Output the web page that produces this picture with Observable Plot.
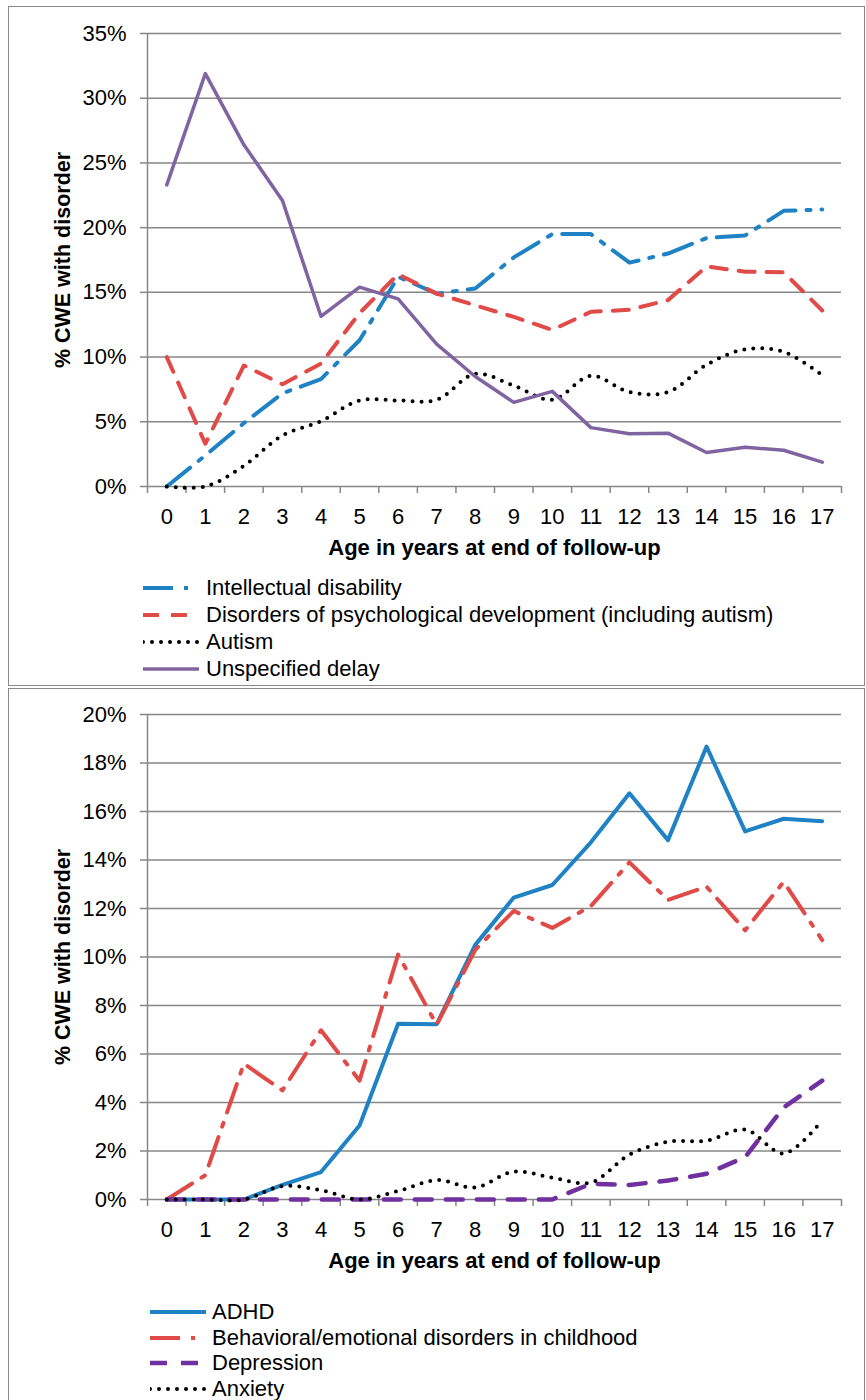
<!DOCTYPE html>
<html>
<head>
<meta charset="utf-8">
<script src="https://cdn.jsdelivr.net/npm/d3@7"></script>
<script src="https://cdn.jsdelivr.net/npm/@observablehq/plot@0.6"></script>
<style>
  html, body { margin: 0; padding: 0; background: #fff; }
  body { width: 866px; height: 1400px; position: relative; overflow: hidden;
         font-family: "Liberation Sans", Arial, sans-serif; }
  .frame { position: absolute; box-sizing: border-box; border: 1.5px solid #8a8a8a; background: transparent; }
  .chart { position: absolute; left: 0; }
  .legend { position: absolute; font-size: 22px; color: #000; }
  .legend .row { display: flex; align-items: center; white-space: nowrap; }
  .legend svg { display: block; flex: none; }
</style>
</head>
<body>
<div class="frame" style="left:8px; top:6px; width:857px; height:680px;"></div>
<div class="frame" style="left:8px; top:688px; width:857px; height:730px;"></div>
<div id="top" class="chart" style="top:0px;"></div>
<div id="bottom" class="chart" style="top:688px;"></div>
<div id="legend1" class="legend" style="left:143px; top:574px;"></div>
<div id="legend2" class="legend" style="left:150px; top:1299px;"></div>
<script>
// ---- data ----
const ages = [0, 1, 2, 3, 4, 5, 6, 7, 8, 9, 10, 11, 12, 13, 14, 15, 16, 17];

// top panel (% of CWE)
const intellectualDisability = [0, 2.4, 4.9, 7.2, 8.3, 11.3, 16.2, 14.9, 15.3, 17.7, 19.5, 19.5, 17.3, 18.0, 19.2, 19.4, 21.3, 21.4];
const psychDevelopment = [10.0, 3.3, 9.35, 7.9, 9.5, 13.4, 16.4, 14.9, 14.0, 13.1, 12.1, 13.5, 13.65, 14.4, 17.0, 16.6, 16.55, 13.6];
const autism = [0, 0, 1.6, 3.95, 5.05, 6.65, 6.65, 6.7, 8.7, 7.8, 6.7, 8.55, 7.3, 7.3, 9.4, 10.6, 10.4, 8.6];
const unspecifiedDelay = [23.3, 31.9, 26.4, 22.1, 13.15, 15.4, 14.5, 11.0, 8.5, 6.5, 7.35, 4.55, 4.07, 4.12, 2.63, 3.04, 2.8, 1.88];

// bottom panel (% of CWE)
const adhd = [0, 0, 0, 0.6, 1.13, 3.05, 7.25, 7.23, 10.5, 12.45, 12.97, 14.73, 16.75, 14.82, 18.68, 15.18, 15.7, 15.6];
const behavioral = [0, 1.0, 5.6, 4.5, 6.98, 4.9, 10.1, 7.2, 10.3, 11.9, 11.2, 12.1, 13.9, 12.35, 12.9, 11.1, 13.1, 10.7];
const depression = [0, 0, 0, 0, 0, 0, 0, 0, 0, 0, 0, 0.65, 0.6, 0.78, 1.06, 1.75, 3.8, 4.9];
const anxiety = [0, 0, 0, 0.55, 0.38, 0, 0.35, 0.8, 0.5, 1.15, 0.9, 0.7, 1.85, 2.38, 2.43, 2.88, 1.9, 3.27];

const topTicks = [0, 5, 10, 15, 20, 25, 30, 35];
const bottomTicks = [0, 2, 4, 6, 8, 10, 12, 14, 16, 18, 20];

const xTitle = "Age in years at end of follow-up";
const yTitle = "% CWE with disorder";

// ---- styles ----
const BLUE = "#1f82c4", RED = "#e04a47", PURPLE = "#8064a2", DPURPLE = "#7030a0", BLACK = "#000";
const GRID = "#878787";
const styles = {
  longDashDot: {strokeWidth: 4, strokeDasharray: "30,11,4,11"},
  dash: {strokeWidth: 4, strokeDasharray: "16,12"},
  dot: {strokeWidth: 4, strokeDasharray: "0,9", strokeLinecap: "round", curve: "catmull-rom"},
  solid: {strokeWidth: 3.5},
  midDash: {strokeWidth: 4.5, strokeDasharray: "17,14"}
};

const topSeries = [
  {name: "Intellectual disability", values: intellectualDisability, color: BLUE, style: styles.longDashDot},
  {name: "Disorders of psychological development (including autism)", values: psychDevelopment, color: RED, style: styles.dash},
  {name: "Autism", values: autism, color: BLACK, style: styles.dot},
  {name: "Unspecified delay", values: unspecifiedDelay, color: PURPLE, style: styles.solid}
];
const bottomSeries = [
  {name: "ADHD", values: adhd, color: BLUE, style: {strokeWidth: 4}},
  {name: "Behavioral/emotional disorders in childhood", values: behavioral, color: RED, style: styles.longDashDot},
  {name: "Depression", values: depression, color: DPURPLE, style: styles.midDash},
  {name: "Anxiety", values: anxiety, color: BLACK, style: styles.dot}
];

const boundaries = d3.range(-0.5, 18, 1);

function chart(series, ticks, marginTop, plotBottom) {
  const lines = series.map(s => {
    const rows = ages.map((a, i) => ({age: a, value: s.values[i]}));
    const {curve, ...st} = s.style;
    return Plot.line(rows, {x: "age", y: "value", stroke: s.color, curve: curve || "linear", ...st});
  });
  const marginBottom = 89;
  return Plot.plot({
    width: 866,
    height: plotBottom + marginBottom,
    marginLeft: 147,
    marginRight: 25,
    marginTop,
    marginBottom,
    style: {fontFamily: '"Liberation Sans", Arial, sans-serif', fontSize: "22px", color: "#000", background: "transparent", overflow: "visible"},
    x: {domain: [-0.5, 17.5], axis: null},
    y: {domain: [0, ticks[ticks.length - 1]], axis: null},
    marks: [
      Plot.gridY(ticks, {stroke: GRID, strokeOpacity: 1, strokeWidth: 1.5}),
      Plot.ruleX([-0.5], {stroke: GRID, strokeWidth: 1.5}),
      Plot.axisY(ticks, {label: null, tickSize: 7, tickPadding: 14, tickFormat: d => d + "%", stroke: GRID, strokeWidth: 1.5, fill: "#000"}),
      Plot.axisX(boundaries, {label: null, tickSize: 7, tickFormat: () => "", stroke: GRID, strokeWidth: 1.5}),
      Plot.axisX(ages, {label: null, tickSize: 0, tickPadding: 22, tickFormat: d => String(d), fill: "#000"}),
      ...lines,
      Plot.text([xTitle], {frameAnchor: "bottom", dy: 68, fontWeight: "bold", fontSize: 22, fill: "#000"}),
      Plot.text([yTitle], {frameAnchor: "left", textAnchor: "middle", dx: -84, rotate: -90, fontWeight: "bold", fontSize: 21.5, fill: "#000"})
    ]
  });
}

document.getElementById("top").append(chart(topSeries, topTicks, 33, 486));
document.getElementById("bottom").append(chart(bottomSeries, bottomTicks, 26, 511));

function legend(el, series, rowH, swW, gap) {
  for (const s of series) {
    const row = document.createElement("div");
    row.className = "row";
    row.style.height = rowH + "px";
    const ns = "http://www.w3.org/2000/svg";
    const svg = document.createElementNS(ns, "svg");
    svg.setAttribute("width", swW); svg.setAttribute("height", 10);
    svg.style.marginRight = gap + "px";
    const ln = document.createElementNS(ns, "line");
    ln.setAttribute("x1", 0); ln.setAttribute("x2", swW); ln.setAttribute("y1", 5); ln.setAttribute("y2", 5);
    ln.setAttribute("stroke", s.color);
    ln.setAttribute("stroke-width", s.style.strokeWidth || 3.5);
    if (s.style.strokeDasharray) ln.setAttribute("stroke-dasharray", s.style.strokeDasharray);
    if (s.style.strokeLinecap) ln.setAttribute("stroke-linecap", s.style.strokeLinecap);
    svg.append(ln);
    const t = document.createElement("span");
    t.textContent = s.name;
    row.append(svg, t);
    el.append(row);
  }
}
legend(document.getElementById("legend1"), topSeries, 27, 56, 7);
legend(document.getElementById("legend2"), bottomSeries, 25.7, 56, 6);
</script>
</body>
</html>
